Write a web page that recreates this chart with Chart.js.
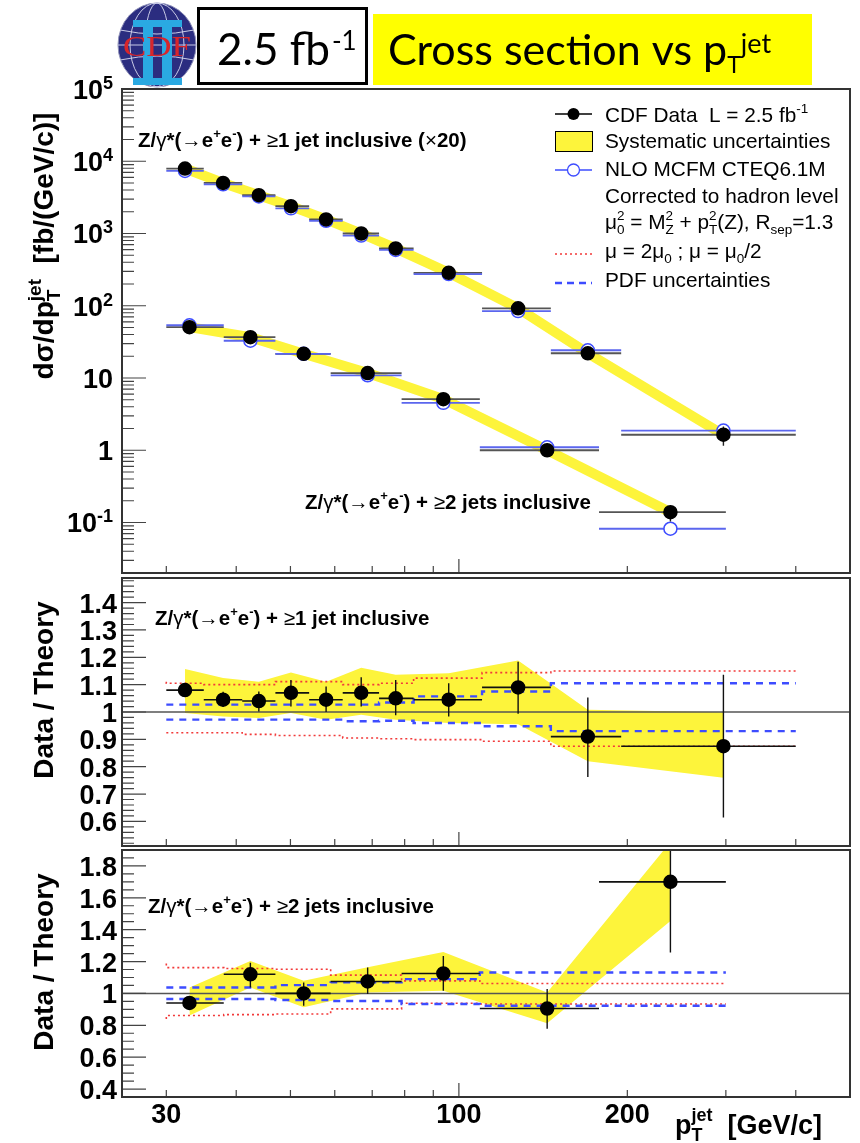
<!DOCTYPE html>
<html>
<head>
<meta charset="utf-8">
<title>CDF Z+jets cross section vs pT</title>
<script src="https://cdn.jsdelivr.net/npm/chart.js@4.4.1/dist/chart.umd.min.js"></script>
<style>
  body { margin: 0; background: #fff; }
  #page { position: relative; width: 860px; height: 1143px; overflow: hidden; background: #fff; }
  canvas { position: absolute; left: 0; top: 0; }
  #logo { position: absolute; left: 117px; top: 2px; z-index: 5; }
</style>
</head>
<body>
<div id="page">
  <canvas id="top" width="860" height="1143"></canvas>
  <canvas id="mid" width="860" height="1143"></canvas>
  <canvas id="bot" width="860" height="1143"></canvas>
  <svg id="logo" width="80" height="86" viewBox="0 0 80 86">
    <ellipse cx="40" cy="43" rx="39" ry="42" fill="#2b2d80" stroke="#8e90b8" stroke-width="1"/>
    <g stroke="#c9cbe6" stroke-width="1" fill="none">
      <ellipse cx="40" cy="43" rx="27" ry="42"/>
      <ellipse cx="40" cy="43" rx="12" ry="42"/>
      <path d="M3 28 Q40 36 77 28"/>
      <path d="M3 58 Q40 50 77 58"/>
      <line x1="1" y1="43" x2="79" y2="43"/>
    </g>
    <g fill="#2aa9e2">
      <rect x="16" y="18" width="49" height="7"/>
      <rect x="16" y="76" width="49" height="7"/>
      <rect x="26" y="25" width="10" height="51"/>
      <rect x="45" y="25" width="10" height="51"/>
    </g>
    <text x="40" y="54" font-family="Liberation Serif, serif" font-size="29" fill="#d8262b"
          text-anchor="middle" textLength="68" lengthAdjust="spacingAndGlyphs">CDF</text>
  </svg>
</div>
<script>
var FONT = '"Liberation Sans", Arial, sans-serif';
var YELLOW = '#fdf43b';
var RED = '#f23a3a';
var BLUE = '#3d4cff';

// Z/gamma* + >=1 jet: bin edges, point positions, values (top panel is x20)
var edges1 = [30, 35, 41, 47, 54, 62, 72, 83, 110, 146, 195, 400];
var pt1 = [32.4, 37.9, 43.9, 50.1, 57.9, 66.9, 77.1, 95.9, 127.6, 170, 297];
var data1 = [7930, 5010, 3390, 2390, 1565, 1000, 622, 286, 92, 22, 1.64];
var data1Lo = [7750, 4870, 3270, 2280, 1500, 950, 585, 270, 84, 18.4, 1.15];
var data1Hi = [8110, 5150, 3510, 2550, 1655, 1060, 660, 302, 100, 25.5, 2.13];
var nlo1 = [7340, 4790, 3260, 2230, 1500, 935, 592, 274, 84.4, 24.2, 1.87];
var ratio1 = [1.08, 1.045, 1.04, 1.07, 1.045, 1.07, 1.05, 1.045, 1.09, 0.91, 0.875];
var ratio1Lo = [1.055, 1.02, 1.002, 1.02, 1.0, 1.02, 0.988, 0.984, 0.994, 0.762, 0.614];
var ratio1Hi = [1.105, 1.074, 1.075, 1.117, 1.093, 1.127, 1.117, 1.105, 1.184, 1.053, 1.136];
var sys1Hi = [1.157, 1.124, 1.111, 1.144, 1.111, 1.162, 1.136, 1.142, 1.188, 1.008, 0.999];
var sys1Lo = [0.996, 0.984, 0.978, 0.996, 0.972, 0.99, 0.972, 0.96, 0.955, 0.82, 0.76];
var scaleUp1 = [1.111, 1.105, 1.10, 1.10, 1.111, 1.111, 1.10, 1.105, 1.124, 1.144, 1.150];
var scaleDn1 = [0.924, 0.924, 0.924, 0.918, 0.914, 0.914, 0.905, 0.902, 0.899, 0.893, 0.875];
var pdfUp1 = [1.027, 1.027, 1.027, 1.027, 1.027, 1.027, 1.027, 1.035, 1.057, 1.075, 1.105];
var pdfDn1 = [0.972, 0.972, 0.972, 0.972, 0.972, 0.972, 0.966, 0.968, 0.960, 0.948, 0.930];

// Z/gamma* + >=2 jets
var edges2 = [30, 38, 47, 59, 79, 109, 178, 300];
var pt2 = [33.0, 42.4, 52.8, 68.7, 93.8, 143.8, 238.8];
var data2 = [50.5, 36.7, 21.6, 11.7, 5.1, 1.0, 0.139];
var data2Lo = [48.3, 34.2, 19.9, 10.8, 4.6, 0.86, 0.103];
var data2Hi = [52.7, 39.1, 23.3, 12.6, 5.6, 1.13, 0.157];
var nlo2 = [53.7, 32.8, 21.6, 10.9, 4.53, 1.10, 0.082];
var ratio2 = [0.94, 1.12, 1.0, 1.075, 1.125, 0.905, 1.70];
var ratio2Lo = [0.90, 1.037, 0.923, 0.996, 1.017, 0.778, 1.256];
var ratio2Hi = [0.98, 1.193, 1.069, 1.162, 1.235, 1.027, 1.92];
var sys2Hi = [1.037, 1.204, 1.079, 1.165, 1.26, 1.006, 1.95];
var sys2Lo = [0.861, 1.037, 0.913, 1.006, 1.017, 0.813, 1.454];
var scaleUp2 = [1.187, 1.162, 1.156, 1.152, 1.115, 1.079, 1.062];
var scaleDn2 = [0.84, 0.861, 0.867, 0.871, 0.903, 0.938, 0.934];
var pdfUp2 = [1.037, 1.037, 1.037, 1.052, 1.069, 1.09, 1.131];
var pdfDn2 = [0.965, 0.965, 0.965, 0.959, 0.952, 0.934, 0.923];

// axis ticks and labels
var xTicks = [30, 40, 50, 60, 70, 80, 90, 100, 200, 300, 400];
var xLabels = [30, 100, 200];
var topDecades = [0.1, 1, 10, 100, 1000, 10000, 100000];
var topLabels = [[{ t: '10', sup: '-1' }], [{ t: '1' }], [{ t: '10' }], [{ t: '10', sup: '2' }],
                 [{ t: '10', sup: '3' }], [{ t: '10', sup: '4' }], [{ t: '10', sup: '5' }]];
var midLabels = [0.6, 0.7, 0.8, 0.9, 1, 1.1, 1.2, 1.3, 1.4];
var botLabels = [0.4, 0.6, 0.8, 1, 1.2, 1.4, 1.6, 1.8];

// ---------- helpers ----------
function hbars(edges, v) {
  var out = [];
  for (var i = 0; i < v.length; i++) {
    out.push({ x: edges[i], y: v[i] }, { x: edges[i + 1], y: v[i] }, { x: edges[i + 1], y: null });
  }
  return out;
}
function vbars(x, lo, hi) {
  var out = [];
  for (var i = 0; i < x.length; i++) {
    if (lo[i] == null) continue;
    out.push({ x: x[i], y: lo[i] }, { x: x[i], y: hi[i] }, { x: x[i], y: null });
  }
  return out;
}
function steps(edges, v) {
  var out = [];
  for (var i = 0; i < v.length; i++) out.push({ x: edges[i], y: v[i] });
  out.push({ x: edges[v.length], y: v[v.length - 1] });
  return out;
}
function xy(x, v) {
  return x.map(function (xx, i) { return { x: xx, y: v[i] }; });
}
function lineSet(data, color, width, order, extra) {
  var ds = { data: data, borderColor: color, borderWidth: width, pointRadius: 0, fill: false, order: order };
  for (var k in extra) ds[k] = extra[k];
  return ds;
}
function markerSet(data, fill, stroke, order) {
  return { data: data, showLine: false, pointRadius: 6.5, pointBackgroundColor: fill,
           pointBorderColor: stroke, pointBorderWidth: 1.5, order: order };
}
function ratioSets(edges, x, r, rLo, rHi, sHi, sLo, up, dn, pUp, pDn) {
  return [
    markerSet(xy(x, r), '#000', '#000', 1),
    lineSet(hbars(edges, r), '#111', 1.6, 2),
    lineSet(vbars(x, rLo, rHi), '#111', 1.4, 2),
    lineSet(steps(edges, up), RED, 1.6, 5, { stepped: 'after', borderDash: [2, 3] }),
    lineSet(steps(edges, dn), RED, 1.6, 5, { stepped: 'after', borderDash: [2, 3] }),
    lineSet(steps(edges, pUp), BLUE, 2.4, 4, { stepped: 'after', borderDash: [7, 6] }),
    lineSet(steps(edges, pDn), BLUE, 2.4, 4, { stepped: 'after', borderDash: [7, 6] }),
    lineSet([{ x: 25, y: 1 }, { x: 500, y: 1 }], '#555', 1.5, 7),
    lineSet(xy(x, sHi), 'rgba(0,0,0,0)', 0, 10, { fill: '+1', backgroundColor: YELLOW }),
    lineSet(xy(x, sLo), 'rgba(0,0,0,0)', 0, 10)
  ];
}

function drawRich(ctx, x, y, parts, o, align) {
  var size = o.size, small = o.small || Math.round(size * 0.66);
  var wt = o.weight || 'normal';
  var supDy = o.supDy !== undefined ? o.supDy : -size * 0.4;
  var subDy = o.subDy !== undefined ? o.subDy : size * 0.22;
  var widths = parts.map(function (p) {
    var w = 0, s = 0, pw = p.w || wt;
    if (p.t) { ctx.font = pw + ' ' + size + 'px ' + FONT; w = ctx.measureText(p.t).width; }
    ctx.font = pw + ' ' + small + 'px ' + FONT;
    if (p.sup) s = ctx.measureText(p.sup).width;
    if (p.sub) s = Math.max(s, ctx.measureText(p.sub).width);
    return [w, s];
  });
  var total = 0;
  widths.forEach(function (w) { total += w[0] + w[1]; });
  if (align === 'right') x -= total;
  if (align === 'center') x -= total / 2;
  ctx.textAlign = 'left';
  ctx.textBaseline = 'alphabetic';
  parts.forEach(function (p, i) {
    var pw = p.w || wt;
    if (p.t) { ctx.font = pw + ' ' + size + 'px ' + FONT; ctx.fillText(p.t, x, y); }
    x += widths[i][0];
    ctx.font = pw + ' ' + small + 'px ' + FONT;
    if (p.sup) ctx.fillText(p.sup, x, y + supDy);
    if (p.sub) ctx.fillText(p.sub, x, y + subDy);
    x += widths[i][1];
  });
  return total;
}

function zLabel(tail) {
  return [{ t: 'Z/' }, { t: 'γ', w: 'normal' }, { t: '*(' }, { t: '→', w: 'normal' },
          { t: 'e', sup: '+' }, { t: 'e', sup: '-' }, { t: ') + ' }, { t: '≥', w: 'normal' }].concat(tail);
}

// ROOT-like frame: inner ticks, bold labels, axis titles
function framePlugin(axis) {
  return {
    id: 'rootFrame',
    afterDraw: function (chart) {
      var ctx = chart.ctx, a = chart.chartArea, xs = chart.scales.x, ys = chart.scales.y;
      ctx.save();
      ctx.strokeStyle = '#444';
      ctx.lineWidth = 1.2;
      ctx.beginPath();
      xTicks.forEach(function (v) {
        var px = xs.getPixelForValue(v), len = v === 100 ? 14 : 7;
        ctx.moveTo(px, a.bottom); ctx.lineTo(px, a.bottom - len);
      });
      axis.major.forEach(function (v) {
        var py = ys.getPixelForValue(v);
        ctx.moveTo(a.left, py); ctx.lineTo(a.left + 24, py);
      });
      axis.minor.forEach(function (v) {
        var py = ys.getPixelForValue(v);
        ctx.moveTo(a.left, py); ctx.lineTo(a.left + 12, py);
      });
      ctx.stroke();
      ctx.lineWidth = 2;
      ctx.strokeStyle = '#333';
      ctx.strokeRect(a.left, a.top, a.right - a.left, a.bottom - a.top);

      ctx.fillStyle = '#000';
      axis.labelAt.forEach(function (v, i) {
        drawRich(ctx, axis.labelX, ys.getPixelForValue(v) + 10, axis.labels[i],
                 { size: 27, weight: 'bold', small: 18, supDy: -10 }, 'right');
      });
      ctx.save();
      ctx.translate(53, axis.titleY);
      ctx.rotate(-Math.PI / 2);
      drawRich(ctx, 0, 0, axis.title, { size: 28, weight: 'bold', small: 19, supDy: -12, subDy: 7 }, 'center');
      ctx.restore();
      axis.notes.forEach(function (n) {
        drawRich(ctx, n.x, n.y, n.parts, { size: 20.5, weight: 'bold', small: 13, supDy: -9 });
      });
      if (axis.showX) {
        xLabels.forEach(function (v) {
          drawRich(ctx, xs.getPixelForValue(v), 1123, [{ t: String(v) }], { size: 27, weight: 'bold' }, 'center');
        });
        drawRich(ctx, 675, 1134, [{ t: 'p', sub: 'T', sup: 'jet' }, { t: '  [GeV/c]' }],
                 { size: 27, weight: 'bold', small: 18, supDy: -13, subDy: 7 });
      }
      ctx.restore();
    }
  };
}

// header boxes and legend of the top panel
var headerPlugin = {
  id: 'header',
  afterDraw: function (chart) {
    var ctx = chart.ctx, w;
    ctx.save();
    ctx.fillStyle = '#fff';
    ctx.fillRect(198, 8, 168, 75);
    ctx.strokeStyle = '#000';
    ctx.lineWidth = 3;
    ctx.strokeRect(198.5, 8.5, 168, 75);
    ctx.fillStyle = '#ffff00';
    ctx.fillRect(373, 14, 439, 71);
    ctx.fillStyle = '#000';
    ctx.textBaseline = 'alphabetic';
    ctx.textAlign = 'left';
    ctx.font = '44px Lato';
    ctx.fillText('2.5 fb', 217, 65);
    w = ctx.measureText('2.5 fb').width;
    ctx.font = '26px Lato';
    ctx.fillText('-1', 217 + w + 2, 50);
    ctx.font = '43px Lato';
    ctx.fillText('Cross section vs p', 388, 65);
    w = ctx.measureText('Cross section vs p').width;
    ctx.font = '23px Lato';
    ctx.fillText('T', 388 + w, 73);
    w += ctx.measureText('T').width;
    ctx.font = '27px Lato';
    ctx.fillText('jet', 388 + w, 53);

    // legend
    var x0 = 555, x1 = 592, xm = 573.5, tx = 605, f = { size: 20.8, small: 13.5, supDy: -9, subDy: 5 };
    ctx.lineWidth = 1.5;
    ctx.strokeStyle = '#000';
    ctx.beginPath(); ctx.moveTo(x0, 114); ctx.lineTo(x1, 114); ctx.stroke();
    ctx.beginPath(); ctx.arc(xm, 114, 6, 0, 2 * Math.PI); ctx.fill();
    ctx.fillStyle = YELLOW;
    ctx.fillRect(x0, 131, x1 - x0, 20);
    ctx.lineWidth = 1;
    ctx.strokeRect(x0 + 0.5, 131.5, x1 - x0, 20);
    ctx.strokeStyle = BLUE;
    ctx.lineWidth = 1.3;
    ctx.beginPath(); ctx.moveTo(x0, 170); ctx.lineTo(x1, 170); ctx.stroke();
    ctx.fillStyle = '#fff';
    ctx.beginPath(); ctx.arc(xm, 170, 6, 0, 2 * Math.PI); ctx.fill(); ctx.stroke();
    ctx.strokeStyle = RED;
    ctx.lineWidth = 1.6;
    ctx.setLineDash([2, 3]);
    ctx.beginPath(); ctx.moveTo(x0, 254); ctx.lineTo(x1, 254); ctx.stroke();
    ctx.strokeStyle = BLUE;
    ctx.lineWidth = 2.4;
    ctx.setLineDash([7, 5]);
    ctx.beginPath(); ctx.moveTo(x0, 283); ctx.lineTo(x1, 283); ctx.stroke();
    ctx.setLineDash([]);

    ctx.fillStyle = '#000';
    drawRich(ctx, tx, 122, [{ t: 'CDF Data  L = 2.5 fb', sup: '-1' }], f);
    drawRich(ctx, tx, 148, [{ t: 'Systematic uncertainties' }], f);
    drawRich(ctx, tx, 176, [{ t: 'NLO MCFM CTEQ6.1M' }], f);
    drawRich(ctx, tx, 203, [{ t: 'Corrected to hadron level' }], f);
    drawRich(ctx, tx, 229, [{ t: 'μ', sup: '2', sub: '0' }, { t: ' = M', sup: '2', sub: 'Z' },
                            { t: ' + p', sup: '2', sub: 'T' }, { t: '(Z), R', sub: 'sep' }, { t: '=1.3' }], f);
    drawRich(ctx, tx, 258, [{ t: 'μ = 2μ', sub: '0' }, { t: ' ; μ = μ', sub: '0' }, { t: '/2' }], f);
    drawRich(ctx, tx, 287, [{ t: 'PDF uncertainties' }], f);
    ctx.restore();
  }
};

function makePanel(id, top, bottom, yScale, datasets, axis, extraPlugins) {
  return new Chart(document.getElementById(id), {
    type: 'line',
    data: { datasets: datasets },
    options: {
      responsive: false,
      animation: false,
      events: [],
      layout: { padding: { left: 122, right: 10, top: top, bottom: 1143 - bottom } },
      plugins: { legend: { display: false }, tooltip: { enabled: false } },
      scales: {
        x: { type: 'logarithmic', min: 25, max: 500, display: false },
        y: yScale
      }
    },
    plugins: [framePlugin(axis)].concat(extraPlugins || [])
  });
}

function linTicks(from, to, step) {
  var out = [];
  for (var v = from; v <= to + 1e-9; v += step) out.push(Math.round(v * 1000) / 1000);
  return out;
}

// ---------- top panel: cross sections ----------
var logMinor = [];
[0.01, 0.1, 1, 10, 100, 1000, 10000].forEach(function (d) {
  for (var m = 2; m <= 9; m++) if (m * d >= 0.02) logMinor.push(m * d);
});

makePanel('top', 89, 573, { type: 'logarithmic', min: 0.02, max: 100000, display: false }, [
  markerSet(xy(pt1, data1), '#000', '#000', 1),
  markerSet(xy(pt2, data2), '#000', '#000', 1),
  lineSet(vbars(pt1, data1Lo, data1Hi), '#222', 1.4, 2),
  lineSet(vbars(pt2, data2Lo, data2Hi), '#222', 1.4, 2),
  markerSet(xy(pt1, nlo1), '#fff', BLUE, 3),
  markerSet(xy(pt2, nlo2), '#fff', BLUE, 3),
  lineSet(hbars(edges1, nlo1), '#5b66ee', 1.8, 4),
  lineSet(hbars(edges2, nlo2), '#5b66ee', 1.8, 4),
  lineSet(hbars(edges1, data1), '#555', 1.8, 5),
  lineSet(hbars(edges2, data2), '#555', 1.8, 5),
  lineSet(xy(pt1, data1), YELLOW, 10, 9),
  lineSet(xy(pt2, data2), YELLOW, 10, 9)
], {
  major: topDecades, minor: logMinor, labelAt: topDecades, labels: topLabels, labelX: 113,
  title: [{ t: 'dσ/dp', sub: 'T', sup: 'jet' }, { t: '  [fb/(GeV/c)]' }], titleY: 246,
  notes: [
    { x: 138, y: 147, parts: zLabel([{ t: '1 jet inclusive (' }, { t: '×', w: 'normal' }, { t: '20)' }]) },
    { x: 305, y: 509, parts: zLabel([{ t: '2 jets inclusive' }]) }
  ],
  showX: false
}, [headerPlugin]);

// ---------- middle panel: >=1 jet data / theory ----------
makePanel('mid', 578, 846, { type: 'linear', min: 0.51, max: 1.49, display: false },
  ratioSets(edges1, pt1, ratio1, ratio1Lo, ratio1Hi, sys1Hi, sys1Lo, scaleUp1, scaleDn1, pdfUp1, pdfDn1), {
  major: midLabels, minor: linTicks(0.52, 1.48, 0.02), labelAt: midLabels,
  labels: midLabels.map(function (v) { return [{ t: String(v) }]; }), labelX: 117,
  title: [{ t: 'Data / Theory' }], titleY: 690,
  notes: [{ x: 155, y: 625, parts: zLabel([{ t: '1 jet inclusive' }]) }],
  showX: false
});

// ---------- bottom panel: >=2 jets data / theory ----------
makePanel('bot', 850, 1097, { type: 'linear', min: 0.35, max: 1.9, display: false },
  ratioSets(edges2, pt2, ratio2, ratio2Lo, ratio2Hi, sys2Hi, sys2Lo, scaleUp2, scaleDn2, pdfUp2, pdfDn2), {
  major: botLabels, minor: linTicks(0.4, 1.85, 0.05), labelAt: botLabels,
  labels: botLabels.map(function (v) { return [{ t: String(v) }]; }), labelX: 117,
  title: [{ t: 'Data / Theory' }], titleY: 962,
  notes: [{ x: 148, y: 913, parts: zLabel([{ t: '2 jets inclusive' }]) }],
  showX: true
});
</script>
</body>
</html>
